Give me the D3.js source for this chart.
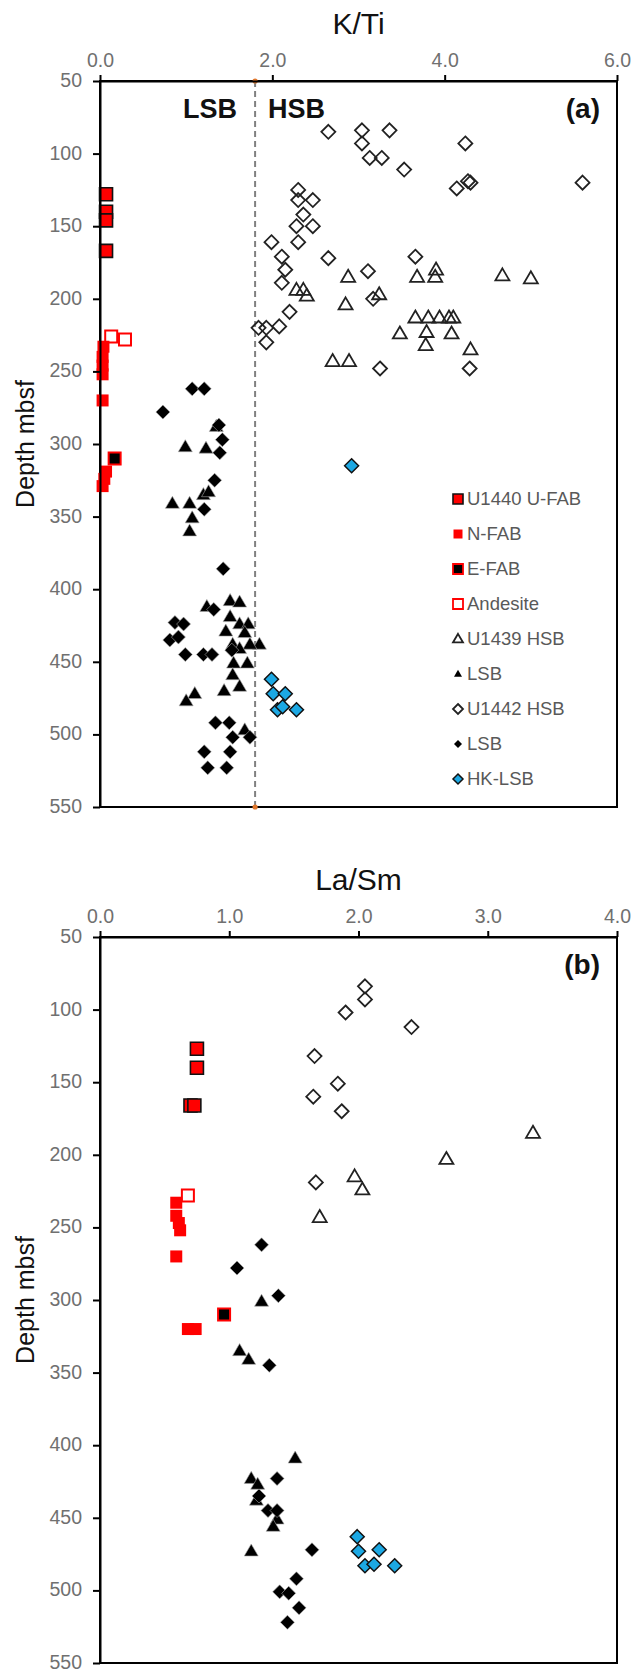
<!DOCTYPE html>
<html>
<head>
<meta charset="utf-8">
<script src="https://cdn.jsdelivr.net/npm/d3@7"></script>
<style>
  html, body { margin: 0; padding: 0; background: #fff; }
  svg { display: block; font-family: "Liberation Sans", Arial, Helvetica, sans-serif; }
</style>
</head>
<body>
<svg id="chart" width="634" height="1673"></svg>
<script>
// ---- Panel (a): K/Ti vs depth (mbsf); each point is [ratio, depth] ----
const ktiTicks = [0, 2, 4, 6];
const depthTicks = [50, 100, 150, 200, 250, 300, 350, 400, 450, 500, 550];
const ktiDivide = 1.8;

const kti_U1440_UFAB = [[0.07,128],[0.07,140],[0.07,146],[0.07,167]];
const kti_NFAB = [[0.04,233],[0.03,240],[0.03,246],[0.03,252],[0.03,270],[0.07,319],[0.05,324],[0.03,329]];
const kti_EFAB = [[0.17,310]];
const kti_Andesite = [[0.13,226],[0.29,228]];
const kti_U1439_HSB = [[2.88,185],[3.68,185],[3.90,180],[3.89,185],[4.67,184],[5.00,186],[2.28,194],[2.36,194],[2.40,198],
  [3.24,197],[2.85,204],[3.66,213],[3.81,213],[3.94,213],[4.05,213],[4.10,213],[3.48,224],[3.79,223],[4.08,224],
  [3.78,232],[4.30,235],[2.70,243],[2.89,243]];
const kti_U1439_LSB = [[1.35,288],[0.99,302],[1.23,303],[1.20,335],[1.26,333],[0.84,341],[1.04,341],[1.07,351],[1.04,360],
  [1.51,408],[1.62,409],[1.24,412],[1.51,419],[1.62,424],[1.72,424],[1.46,429],[1.68,430],[1.54,438],[1.85,438],[1.74,438],
  [1.62,441],[1.55,451],[1.71,451],[1.54,459],[1.62,467],[1.44,470],[1.10,472],[1.00,477],[1.68,497]];
const kti_U1442_HSB = [[2.65,85],[3.04,84],[3.36,84],[3.04,93],[4.24,93],[3.13,103],[3.27,103],[3.53,111],[4.14,124],
  [4.30,120],[4.27,119],[5.60,120],[2.30,125],[2.30,132],[2.47,132],[2.36,142],[2.28,150],[2.47,150],[2.30,161],
  [1.99,161],[2.11,171],[2.65,172],[3.66,171],[2.15,180],[3.11,181],[2.11,189],[3.17,200],[2.20,209],[1.84,220],
  [1.93,220],[2.08,219],[1.93,230],[3.25,248],[4.29,248]];
const kti_U1442_LSB = [[1.07,262],[1.21,262],[0.73,278],[1.38,287],[1.42,297],[1.39,306],[1.33,325],[1.21,345],[1.43,386],
  [1.32,414],[0.87,423],[0.97,424],[0.81,435],[0.91,433],[0.99,445],[1.20,445],[1.30,445],[1.53,442],[1.34,492],
  [1.50,492],[1.54,502],[1.74,502],[1.21,512],[1.51,512],[1.25,523],[1.47,523]];
const kti_HKLSB = [[2.92,315],[1.99,462],[2.01,472],[2.15,472],[2.06,483],[2.12,481],[2.28,483]];

// ---- Panel (b): La/Sm vs depth (mbsf) ----
const lasmTicks = [0, 1, 2, 3, 4];

const lasm_U1440_UFAB = [[0.75,127],[0.75,140],[0.70,166],[0.73,166]];
const lasm_NFAB = [[0.59,233],[0.59,242],[0.61,247],[0.62,252],[0.59,270],[0.68,320],[0.74,320]];
const lasm_EFAB = [[0.96,310]];
const lasm_Andesite = [[0.68,228]];
const lasm_U1439_HSB = [[3.35,185],[2.68,203],[1.97,215],[2.03,224],[1.70,243]];
const lasm_U1439_LSB = [[1.25,301],[1.08,335],[1.15,341],[1.51,409],[1.17,423],[1.22,427],[1.21,438],[1.37,451],[1.34,456],[1.17,473]];
const lasm_U1442_HSB = [[2.05,84],[2.05,93],[1.90,102],[2.41,112],[1.66,132],[1.84,151],[1.65,160],[1.87,170],[1.67,219]];
const lasm_U1442_LSB = [[1.25,262],[1.06,278],[1.38,297],[1.31,345],[1.37,423],[1.23,435],[1.30,445],[1.37,445],
  [1.64,472],[1.52,492],[1.39,501],[1.46,502],[1.54,512],[1.45,522]];
const lasm_HKLSB = [[1.99,463],[2.00,473],[2.16,472],[2.05,483],[2.12,482],[2.28,483]];

const legendLabels = ["U1440 U-FAB","N-FAB","E-FAB","Andesite","U1439 HSB","LSB","U1442 HSB","LSB","HK-LSB"];

// ---- marker styles, in drawing / legend order ----
const styles = [
  {shape:"square",   size:13, fill:"#ff0000", stroke:"#111",   sw:1.6, lsize:10},
  {shape:"square",   size:12, fill:"#ff0000", stroke:"none",   sw:0,   lsize:9},
  {shape:"square",   size:12, fill:"#000",    stroke:"#ff0000",sw:2,   lsize:10},
  {shape:"square",   size:12, fill:"none",    stroke:"#ff0000",sw:2,   lsize:10},
  {shape:"triangle", size:14, fill:"none",    stroke:"#222",   sw:1.8, lsize:10},
  {shape:"triangle", size:14, fill:"#000",    stroke:"#aaa",   sw:0.6, lsize:8},
  {shape:"diamond",  size:14, fill:"none",    stroke:"#222",   sw:1.8, lsize:10},
  {shape:"diamond",  size:14, fill:"#000",    stroke:"#aaa",   sw:0.6, lsize:8},
  {shape:"diamond",  size:14, fill:"#1ca8e3", stroke:"#111",   sw:1.5, lsize:10}
];

function markerPath(shape, s) {
  const h = s / 2;
  if (shape === "square") return `M${-h},${-h}H${h}V${h}H${-h}Z`;
  if (shape === "diamond") return `M0,${-h}L${h},0L0,${h}L${-h},0Z`;
  // triangle, slightly wider than tall
  const th = s * 0.86;
  return `M0,${-th * 0.6}L${h},${th * 0.4}L${-h},${th * 0.4}Z`;
}

const svg = d3.select("#chart");
const X0 = 100, X1 = 617;

function drawPanel(cfg) {
  const x = d3.scaleLinear().domain(cfg.xDomain).range([X0, X1]);
  const y = d3.scaleLinear().domain([50, 550]).range([cfg.top, cfg.top + 726]);
  const g = svg.append("g");

  // frame
  g.append("rect").attr("x", X0).attr("y", y(50)).attr("width", X1 - X0).attr("height", y(550) - y(50))
    .attr("fill", "none").attr("stroke", "#000").attr("stroke-width", 2);

  // divider between LSB and HSB fields
  if (cfg.divide != null) {
    g.append("line").attr("x1", x(cfg.divide)).attr("x2", x(cfg.divide)).attr("y1", y(50)).attr("y2", y(550))
      .attr("stroke", "#808080").attr("stroke-width", 2).attr("stroke-dasharray", "6,4");
    [50, 550].forEach(d => g.append("circle").attr("cx", x(cfg.divide)).attr("cy", y(d)).attr("r", 2.6).attr("fill", "#e0762b"));
  }

  // series
  cfg.series.forEach((pts, i) => {
    const st = styles[i];
    g.append("g").selectAll("path").data(pts).join("path")
      .attr("transform", d => `translate(${x(d[0])},${y(d[1])})`)
      .attr("d", markerPath(st.shape, st.size))
      .attr("fill", st.fill).attr("stroke", st.stroke).attr("stroke-width", st.sw)
      .attr("stroke-linejoin", "miter");
  });

  // axes
  const xAxis = d3.axisTop(x).tickValues(cfg.xTicks).tickFormat(d3.format(".1f")).tickSize(6).tickSizeOuter(0).tickPadding(8);
  const gx = g.append("g").attr("transform", `translate(0,${y(50)})`).call(xAxis);
  const yAxis = d3.axisLeft(y).tickValues(depthTicks).tickSize(7).tickSizeOuter(0).tickPadding(11);
  const gy = g.append("g").attr("transform", `translate(${X0},0)`).call(yAxis);
  gy.selectAll(".tick text").attr("dy", "0.28em");
  [gx, gy].forEach(a => {
    a.select(".domain").attr("stroke", "#000").attr("stroke-width", 2);
    a.selectAll(".tick line").attr("stroke", "#000").attr("stroke-width", 2);
    a.selectAll(".tick text").attr("fill", "#707070").style("font-size", "19.5px")
      .style("font-family", "'Liberation Sans', Arial, sans-serif");
  });

  // titles
  g.append("text").attr("x", (X0 + X1) / 2).attr("y", y(50) - 47).attr("text-anchor", "middle")
    .style("font-size", "30px").attr("fill", "#111").text(cfg.title);
  g.append("text").attr("transform", `translate(34,${(y(50) + y(550)) / 2}) rotate(-90)`)
    .attr("text-anchor", "middle").style("font-size", "25px").attr("fill", "#111").text("Depth mbsf");
  g.append("text").attr("x", 600).attr("y", y(50) + 37).attr("text-anchor", "end")
    .style("font-size", "28px").style("font-weight", "bold").attr("fill", "#111").text(cfg.tag);

  return {g, x, y};
}

const pa = drawPanel({
  top: 81, xDomain: [0, 6], xTicks: ktiTicks, title: "K/Ti", tag: "(a)", divide: ktiDivide,
  series: [kti_U1440_UFAB, kti_NFAB, kti_EFAB, kti_Andesite, kti_U1439_HSB, kti_U1439_LSB, kti_U1442_HSB, kti_U1442_LSB, kti_HKLSB]
});
drawPanel({
  top: 937, xDomain: [0, 4], xTicks: lasmTicks, title: "La/Sm", tag: "(b)", divide: null,
  series: [lasm_U1440_UFAB, lasm_NFAB, lasm_EFAB, lasm_Andesite, lasm_U1439_HSB, lasm_U1439_LSB, lasm_U1442_HSB, lasm_U1442_LSB, lasm_HKLSB]
});

// field labels either side of the divider
pa.g.append("text").attr("x", pa.x(ktiDivide) - 18).attr("y", 118).attr("text-anchor", "end")
  .style("font-size", "27px").style("font-weight", "bold").attr("fill", "#111").text("LSB");
pa.g.append("text").attr("x", pa.x(ktiDivide) + 13).attr("y", 118).attr("text-anchor", "start")
  .style("font-size", "27px").style("font-weight", "bold").attr("fill", "#111").text("HSB");

// legend
const lg = pa.g.append("g").attr("transform", "translate(458,499)");
legendLabels.forEach((lab, i) => {
  const st = styles[i];
  const row = lg.append("g").attr("transform", `translate(0,${i * 35})`);
  row.append("path").attr("d", markerPath(st.shape, st.lsize))
    .attr("fill", st.fill).attr("stroke", st.stroke === "#aaa" ? "none" : st.stroke)
    .attr("stroke-width", Math.min(st.sw, 1.8));
  row.append("text").attr("x", 9).attr("y", 0).attr("dy", "0.35em")
    .style("font-size", "18.5px").attr("fill", "#595959").text(lab);
});
</script>
</body>
</html>
